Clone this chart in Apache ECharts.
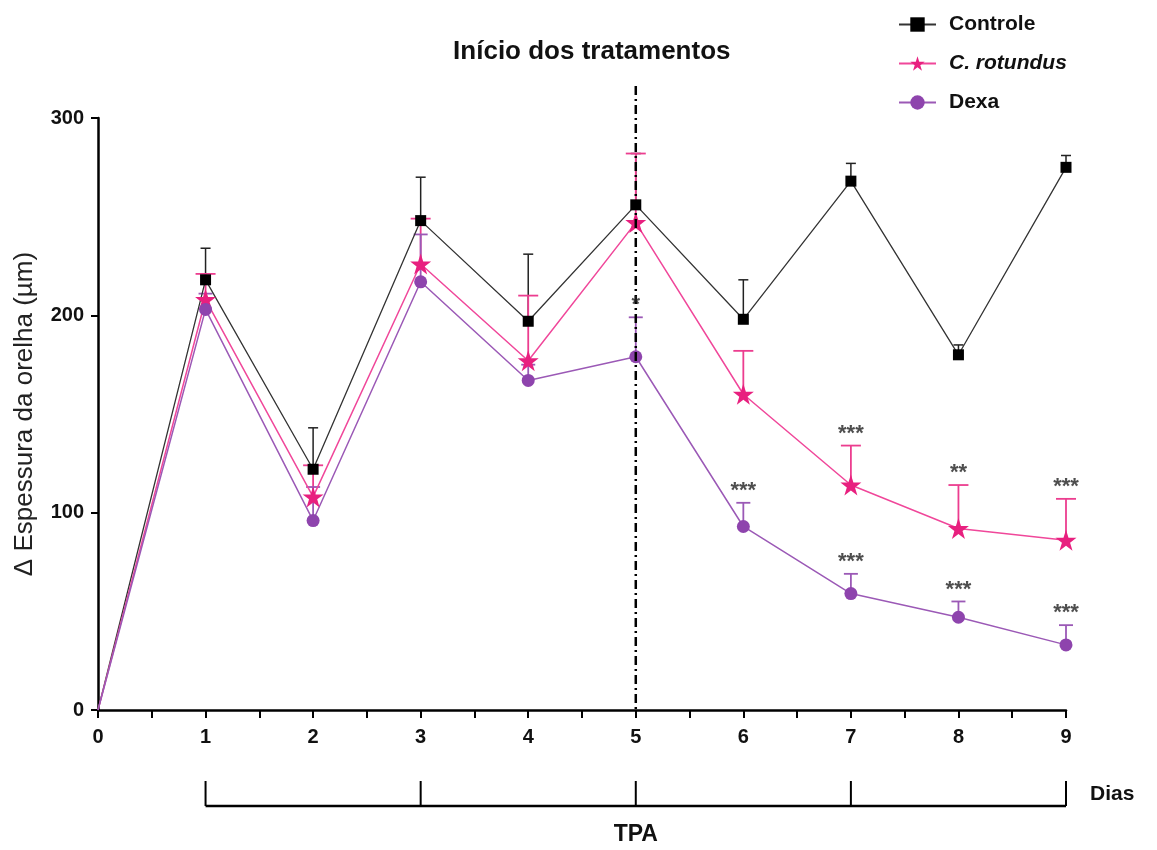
<!DOCTYPE html>
<html><head><meta charset="utf-8">
<script src="https://cdn.jsdelivr.net/npm/echarts@6/dist/echarts.min.js"></script>
<style>html,body{margin:0;padding:0;background:#fff}#c{width:1157px;height:850px}</style>
</head><body><div id="c"></div>
<script>
const days = [0, 1, 2, 3, 4, 5, 6, 7, 8, 9];
const controle = [0, 218, 122, 248, 197, 256, 198, 268, 180, 275];
const controleErr = [0, 16, 21, 22, 34, 26, 20, 9, 5, 6];
const crot = [0, 208, 108, 226, 177, 247, 160, 114, 92, 86];
const crotErr = [0, 13, 16, 23, 33, 35, 22, 20, 22, 21];
const dexa = [0, 203, 96, 217, 167, 179, 93, 59, 47, 33];
const dexaErr = [0, 8, 17, 24, 8, 20, 12, 10, 8, 10];
const crotSig = ['', '', '', '', '', '', '', '***', '**', '***'];
const dexaSig = ['', '', '', '', '', '*', '***', '***', '***', '***'];
const bracketDays = [1, 3, 5, 7, 9];
const treatDay = 5;

const STAR = 'path://M50,0 L61.8,35.4 L99,35.4 L69,57.3 L80.4,92.7 L50,70.8 L19.6,92.7 L31,57.3 L1,35.4 L38.2,35.4 Z';
const FONT = 'Liberation Sans, Arial, sans-serif';

function pts(vals) {
  return days.map((d, i) => i === 0 ? { value: [d, vals[i]], symbol: 'none' } : [d, vals[i]]);
}
function errData(vals, errs) {
  return days.map((d, i) => [d, vals[i], errs[i]]);
}
function errRender(color, capW, lw) {
  return function (params, api) {
    const x = api.value(0), y = api.value(1), e = api.value(2);
    if (!e) return;
    const p0 = api.coord([x, y]);
    const p1 = api.coord([x, y + e]);
    return { type: 'group', children: [
      { type: 'line', shape: { x1: p0[0], y1: p0[1], x2: p1[0], y2: p1[1] }, style: { stroke: color, lineWidth: lw } },
      { type: 'line', shape: { x1: p1[0] - capW / 2, y1: p1[1], x2: p1[0] + capW / 2, y2: p1[1] }, style: { stroke: color, lineWidth: lw } }
    ]};
  };
}
function sigData(vals, errs, sig) {
  const out = [];
  days.forEach((d, i) => { if (sig[i]) out.push([d, vals[i] + errs[i], sig[i]]); });
  return out;
}
function sigSeries(vals, errs, sig) {
  return {
    type: 'scatter', data: sigData(vals, errs, sig), symbolSize: 0, z: 20, silent: true,
    label: { show: true, position: 'top', distance: 1, formatter: p => p.value[2],
      color: '#222', fontSize: 22, fontWeight: 'bold', fontFamily: FONT }
  };
}

const chart = echarts.init(document.getElementById('c'), null, { renderer: 'canvas' });
chart.setOption({
  animation: false,
  backgroundColor: '#fff',
  grid: { left: 98, right: 91, top: 118, bottom: 140 },
  legend: {
    orient: 'vertical', left: 893, top: 9, itemGap: 18, itemWidth: 37, itemHeight: 18,
    textStyle: { fontFamily: FONT, fontSize: 21, fontWeight: 'bold', color: '#111', padding: [0, 0, 0, 8],
      rich: { i: { fontFamily: FONT, fontSize: 21, fontWeight: 'bold', fontStyle: 'italic', color: '#111' } } },
    formatter: n => n === 'C. rotundus' ? '{i|C. rotundus}' : n,
    data: ['Controle', 'C. rotundus', 'Dexa']
  },
  xAxis: {
    type: 'value', min: 0, max: 9, interval: 1,
    axisLine: { show: true, onZero: false, lineStyle: { color: '#000', width: 2.5 } },
    axisTick: { show: true, length: 8, lineStyle: { color: '#000', width: 2 } },
    minorTick: { show: true, splitNumber: 2, length: 8, lineStyle: { color: '#000', width: 2 } },
    splitLine: { show: false },
    axisLabel: { margin: 17, fontFamily: FONT, fontSize: 20, fontWeight: 'bold', color: '#111' }
  },
  yAxis: {
    type: 'value', min: 0, max: 300, interval: 100,
    name: 'Δ Espessura da orelha (µm)', nameLocation: 'middle', nameGap: 60, nameRotate: 90,
    nameTextStyle: { fontFamily: FONT, fontSize: 26, color: '#222' },
    axisLine: { show: true, lineStyle: { color: '#000', width: 2.5 } },
    axisTick: { show: true, length: 7, lineStyle: { color: '#000', width: 2 } },
    splitLine: { show: false },
    axisLabel: { margin: 14, fontFamily: FONT, fontSize: 20, fontWeight: 'bold', color: '#111' }
  },
  series: [
    { type: 'custom', name: 'errC', renderItem: errRender('#222', 10, 1.5), data: errData(controle, controleErr), z: 1, silent: true, encode: { x: 0, y: 1 } },
    { type: 'custom', name: 'errR', renderItem: errRender('#ec3d8f', 20, 1.8), data: errData(crot, crotErr), z: 1, silent: true, encode: { x: 0, y: 1 } },
    { type: 'custom', name: 'errD', renderItem: errRender('#9b59b6', 14, 1.8), data: errData(dexa, dexaErr), z: 1, silent: true, encode: { x: 0, y: 1 } },
    { type: 'line', name: 'Controle', data: pts(controle), symbol: 'rect', symbolSize: 11, z: 3,
      lineStyle: { color: '#333', width: 1.3 }, itemStyle: { color: '#000' } },
    { type: 'line', name: 'C. rotundus', data: pts(crot), symbol: STAR, symbolSize: 21, z: 3,
      lineStyle: { color: '#f0479a', width: 1.5 }, itemStyle: { color: '#e8207f' } },
    { type: 'line', name: 'Dexa', data: pts(dexa), symbol: 'circle', symbolSize: 13, z: 3,
      lineStyle: { color: '#9b59b6', width: 1.5 }, itemStyle: { color: '#8e44ad' } },
    sigSeries(crot, crotErr, crotSig),
    sigSeries(dexa, dexaErr, dexaSig)
  ]
});

// annotations positioned through the axis scale
const xp = d => chart.convertToPixel({ xAxisIndex: 0 }, d);
const y0 = chart.convertToPixel({ yAxisIndex: 0 }, 0);
const tx = xp(treatDay);
const bx = bracketDays.map(xp);
const brY = y0 + 96, brTop = y0 + 71;
const g = [
  { type: 'line', z: 10, shape: { x1: tx, y1: 86, x2: tx, y2: y0 - 1 },
    style: { stroke: '#000', lineWidth: 2.5, lineDash: [9, 4, 2, 4] } },
  { type: 'text', z: 10, style: { text: 'Início dos tratamentos', x: tx - 44, y: 52, align: 'center', verticalAlign: 'middle',
      font: 'bold 26px ' + FONT, fill: '#111' } },
  { type: 'line', shape: { x1: bx[0], y1: brY, x2: bx[bx.length - 1], y2: brY }, style: { stroke: '#000', lineWidth: 2.5 } },
  { type: 'text', style: { text: 'Dias', x: bx[bx.length - 1] + 24, y: brY - 12, align: 'left', verticalAlign: 'middle',
      font: 'bold 21px ' + FONT, fill: '#111' } },
  { type: 'text', style: { text: 'TPA', x: (bx[0] + bx[bx.length - 1]) / 2, y: brY + 29, align: 'center', verticalAlign: 'middle',
      font: 'bold 23px ' + FONT, fill: '#111' } }
];
bx.forEach(x => g.push({ type: 'line', shape: { x1: x, y1: brTop, x2: x, y2: brY }, style: { stroke: '#000', lineWidth: 2 } }));
chart.setOption({ graphic: g });
</script></body></html>
